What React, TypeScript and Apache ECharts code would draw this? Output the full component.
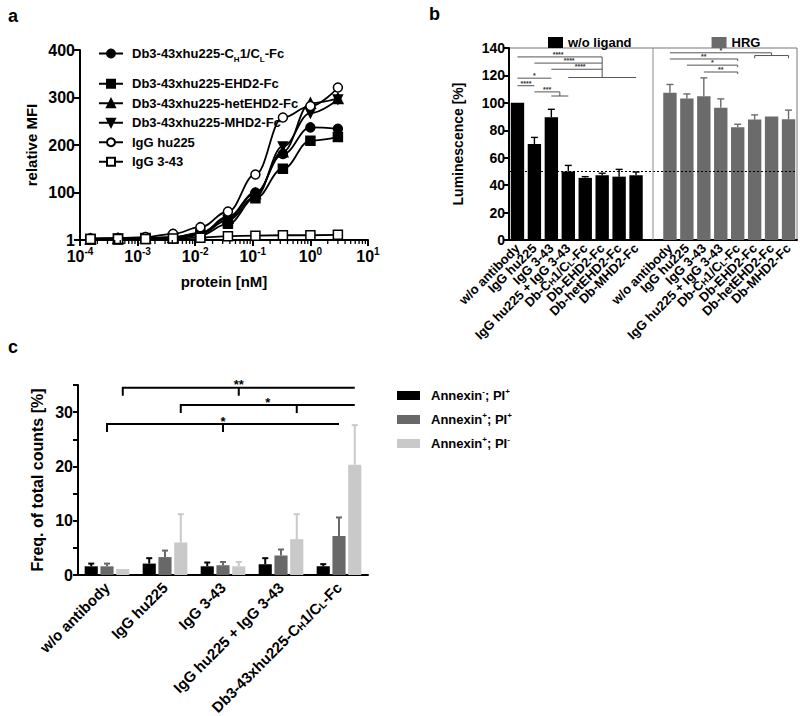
import React, { useEffect, useRef } from 'react';
import * as echarts from 'echarts';

const FONT = "'Liberation Sans', Arial, Helvetica, sans-serif";

// ---------- Panel a: binding curves ----------
const concentrations = [0.000152, 0.000457, 0.00137, 0.00412, 0.0123, 0.037, 0.111, 0.333, 1, 3];
const mfiCH1CL = [3, 4, 4, 6, 14, 49, 100, 181, 237, 234];
const mfiEHD2 = [1, 1, 2, 3, 10, 34, 88, 150, 209, 217];
const mfiHetEHD2 = [2, 3, 4, 6, 15, 46, 98, 186, 288, 298];
const mfiMHD2 = [2, 3, 4, 5, 13, 42, 91, 197, 267, 296];
const mfiIgGhu225 = [3, 4, 6, 13, 27, 60, 138, 258, 282, 321];
const mfiIgG343 = [2, 2, 2, 3, 5, 8, 9, 10, 10, 11];
const aNames = [
  'Db3-43xhu225-CH1/CL-Fc',
  'Db3-43xhu225-EHD2-Fc',
  'Db3-43xhu225-hetEHD2-Fc',
  'Db3-43xhu225-MHD2-Fc',
  'IgG hu225',
  'IgG 3-43',
];
// log-axis minor ticks: multipliers within each decade
const minorDecades = [0.0001, 0.001, 0.01, 0.1, 1];
const minorMultipliers = [2, 3, 4, 5, 6, 7, 8, 9];

// ---------- Panel b: luminescence ----------
const bCategories = [
  'w/o antibody',
  'IgG hu225',
  'IgG 3-43',
  'IgG hu225 + IgG 3-43',
  'Db-CH1/CL-Fc',
  'Db-EHD2-Fc',
  'Db-hetEHD2-Fc',
  'Db-MHD2-Fc',
];
const bNoLigand = [100, 70, 89.5, 50, 45.3, 47.2, 46.2, 47.2];
const bNoLigandSD = [0, 4.8, 5.8, 4.4, 0.9, 1.5, 5.3, 2.4];
const bHRG = [107.3, 103.2, 104.9, 96.4, 82.3, 87.8, 90, 88.1];
const bHRGSD = [6.1, 3.3, 13.3, 6.5, 2.1, 3.4, 0, 6.6];
const bThreshold = 50;
// significance brackets: points in [category index, value]; lx = label position (category index)
const bBrackets = [
  { pts: [[0, 133.5], [5, 133.5]], label: '****', lx: 2.4 },
  { pts: [[1, 129], [5, 129]], label: '****', lx: 3.05 },
  { pts: [[2, 124.5], [5, 124.5]], label: '****', lx: 3.7 },
  { pts: [[5, 133.5], [5, 118.5]], label: '' },
  { pts: [[3, 118.5], [7, 118.5]], label: '' },
  { pts: [[0, 118], [2, 118]], label: '*' },
  { pts: [[0, 112.5], [1, 112.5]], label: '****' },
  { pts: [[1, 108], [2.5, 108], [2.5, 105]], label: '***' },
  { pts: [[2, 105], [3, 105]], label: '' },
  { pts: [[9, 136.5], [15, 136.5], [15, 134.5]], label: '*' },
  { pts: [[14, 132.5], [14, 134.5], [16, 134.5], [16, 132.5]], label: '' },
  { pts: [[9, 132], [13, 132], [13, 130.5]], label: '**' },
  { pts: [[10, 127.5], [13, 127.5], [13, 126]], label: '*' },
  { pts: [[11, 122.5], [13, 122.5], [13, 121]], label: '**' },
  { pts: [[8, 0], [8, 140]], label: '', sep: true },
];

// ---------- Panel c: apoptosis ----------
const cCategories = [
  'w/o antibody',
  'IgG hu225',
  'IgG 3-43',
  'IgG hu225 + IgG 3-43',
  'Db3-43xhu225-CH1/CL-Fc',
];
const cNames = ['Annexin-; PI+', 'Annexin+; PI+', 'Annexin+; PI-'];
const cNegPos = [1.6, 2.1, 1.6, 2.0, 1.6];
const cNegPosSD = [0.5, 1.0, 0.7, 1.1, 0.4];
const cPosPos = [1.6, 3.3, 1.8, 3.6, 7.2];
const cPosPosSD = [0.5, 1.2, 0.6, 1.1, 3.4];
const cPosNeg = [1.1, 6.0, 1.6, 6.6, 20.3];
const cPosNegSD = [0, 5.2, 0.8, 4.6, 7.3];
// brackets: [group, bar slot] endpoints, value level
const cBrackets = [
  { from: [0, 2], to: [4, 2], tick: [2, 2], y: 34.5, label: '**' },
  { from: [1, 2], to: [4, 2], tick: [3, 2], y: 31.3, label: '*' },
  { from: [0, 1], to: [4, 1], tick: [2, 1], y: 27.8, label: '*' },
];

const C_BLACK = '#000000';
const C_GRAY_B = '#6b6b6b';
const C_DGRAY = '#686868';
const C_LGRAY = '#c9c9c9';
const cColors = [C_BLACK, C_DGRAY, C_LGRAY];

const bold = (size: number) => ({ fontFamily: FONT, fontWeight: 'bold' as const, fontSize: size, color: '#000' });

const subRich = (size: number, subSize: number) => ({
  t: { ...bold(size), lineHeight: size + 7 },
  s: { ...bold(subSize), lineHeight: subSize, verticalAlign: 'bottom' as const },
});
const supRich = (size: number, supSize: number) => ({
  t: { ...bold(size), lineHeight: size + 4 },
  u: { ...bold(supSize), lineHeight: supSize, verticalAlign: 'top' as const },
});

const chLabel = (prefix: string) => `{t|${prefix}C}{s|H}{t|1/C}{s|L}{t|-Fc}`;

const annexinLabel = (name: string) => {
  const m = name.match(/^Annexin(.); PI(.)$/);
  if (!m) return name;
  return `{t|Annexin}{u|${m[1]}}{t|; PI}{u|${m[2]}}`;
};

const CAT_GAP_C = 0.23;
const BAR_GAP_C = 0.2;

export default function App() {
  const ref = useRef<HTMLDivElement>(null);

  useEffect(() => {
    if (!ref.current) return;
    document.body.style.margin = '0';
    const chart = echarts.init(ref.current, undefined, { renderer: 'svg' });

    const aSymbols: any[] = [
      { symbol: 'circle', fill: '#000' },
      { symbol: 'rect', fill: '#000' },
      { symbol: 'triangle', fill: '#000' },
      { symbol: 'path://M0,0 L10,0 L5,9 Z', fill: '#000' },
      { symbol: 'circle', fill: '#fff' },
      { symbol: 'rect', fill: '#fff' },
    ];
    const aData = [mfiCH1CL, mfiEHD2, mfiHetEHD2, mfiMHD2, mfiIgGhu225, mfiIgG343];

    const aSeries = aNames.map((name, i) => ({
      name,
      type: 'line',
      xAxisIndex: 0,
      yAxisIndex: 0,
      data: concentrations.map((c, j) => [c, aData[i][j]]),
      smooth: i === 5 ? false : 0.4,
      smoothMonotone: 'x',
      symbol: aSymbols[i].symbol,
      symbolSize: i === 2 ? 10 : 9,
      lineStyle: { color: '#000', width: 1.8 },
      itemStyle: { color: aSymbols[i].fill, borderColor: '#000', borderWidth: 1.5 },
      z: i === 4 || i === 5 ? 4 : 3,
    }));

    const minorTicks: number[][] = [];
    minorDecades.forEach((d) => minorMultipliers.forEach((m) => minorTicks.push([d * m, 0])));

    // panel b data
    const nB = bCategories.length * 2 + 1;
    const bAxisData = [...bCategories, ' ', ...bCategories];
    const bNoLigandData = Array.from({ length: nB }, (_, i) => (i < bCategories.length ? bNoLigand[i] : '-'));
    const bHRGData = Array.from({ length: nB }, (_, i) =>
      i > bCategories.length ? bHRG[i - bCategories.length - 1] : '-'
    );
    const bErrData: number[][] = [];
    bNoLigand.forEach((v, i) => bErrData.push([i, v, bNoLigandSD[i], 0]));
    bHRG.forEach((v, i) => bErrData.push([i + bCategories.length + 1, v, bHRGSD[i], 1]));

    const cErrData: number[][] = [];
    [
      [cNegPos, cNegPosSD],
      [cPosPos, cPosPosSD],
      [cPosNeg, cPosNegSD],
    ].forEach(([vals, sds], s) => vals.forEach((v, g) => cErrData.push([g, v, sds[g], s])));

    const slotOffset = (bw: number, slot: number) => {
      const barW = (bw * (1 - CAT_GAP_C)) / (3 + 2 * BAR_GAP_C);
      return (slot - 1) * barW * (1 + BAR_GAP_C);
    };

    const option: any = {
      animation: false,
      backgroundColor: '#fff',
      textStyle: { fontFamily: FONT },
      title: [
        { text: 'a', left: 3, top: 2, textStyle: bold(18) },
        { text: 'b', left: 424, top: 0, textStyle: bold(18) },
        { text: 'c', left: 3, top: 333, textStyle: bold(18) },
      ],
      grid: [
        { left: 80, top: 50, width: 288, height: 190, outerBoundsMode: 'none' },
        {
          left: 509,
          top: 48,
          width: 288,
          height: 192,
          show: true,
          borderColor: '#777',
          borderWidth: 1,
          backgroundColor: 'transparent',
          outerBoundsMode: 'none',
        },
        { left: 78, top: 385, width: 290, height: 190, outerBoundsMode: 'none' },
      ],
      legend: [
        {
          data: [aNames[0]],
          left: 93,
          top: 42,
          orient: 'vertical',
          itemWidth: 24,
          itemHeight: 10,
          selectedMode: false,
          formatter: () => chLabel('Db3-43xhu225-'),
          textStyle: { ...bold(13), rich: subRich(13, 8), padding: [0, 0, 0, 4] },
        },
        {
          data: aNames.slice(1),
          left: 93,
          top: 71,
          orient: 'vertical',
          itemWidth: 24,
          itemHeight: 10,
          itemGap: 4,
          selectedMode: false,
          textStyle: { ...bold(13), lineHeight: 15.5, padding: [0, 0, 0, 4] },
        },
        {
          data: ['w/o ligand', 'HRG'],
          left: 543,
          top: 31,
          itemWidth: 15,
          itemHeight: 11,
          itemGap: 80,
          icon: 'rect',
          selectedMode: false,
          textStyle: bold(13),
        },
        {
          data: cNames,
          left: 392,
          top: 382,
          orient: 'vertical',
          itemWidth: 23,
          itemHeight: 9,
          itemGap: 9,
          icon: 'rect',
          selectedMode: false,
          formatter: (n: string) => annexinLabel(n),
          textStyle: { ...bold(13), rich: supRich(13, 8), padding: [0, 0, 0, 6] },
        },
      ],
      xAxis: [
        {
          gridIndex: 0,
          type: 'log',
          logBase: 10,
          min: 0.0001,
          max: 10,
          name: 'protein [nM]',
          nameLocation: 'middle',
          nameGap: 34,
          nameTextStyle: bold(15),
          axisLine: { lineStyle: { color: '#000', width: 2 } },
          axisTick: { lineStyle: { color: '#000', width: 2 }, length: 6 },
          splitLine: { show: false },
          axisLabel: {
            margin: 6,
            formatter: (v: number) => {
              const e = Math.round(Math.log10(v));
              return `{t|10}{u|${e}}`;
            },
            rich: supRich(16, 10),
          },
        },
        {
          gridIndex: 1,
          type: 'category',
          data: bAxisData,
          axisLine: { lineStyle: { color: '#000', width: 2 } },
          axisTick: { show: false },
          axisLabel: {
            interval: 0,
            rotate: 45,
            margin: 6,
            ...bold(13),
            formatter: (v: string) => (v.indexOf('CH1/CL') >= 0 ? chLabel('Db-') : v),
            rich: {
              t: { ...bold(13) },
              s: { ...bold(9), verticalAlign: 'bottom' },
            },
          },
        },
        {
          gridIndex: 2,
          type: 'category',
          data: cCategories,
          axisLine: { lineStyle: { color: '#000', width: 2 } },
          axisTick: { alignWithLabel: true, length: 5, lineStyle: { color: '#000', width: 2 } },
          axisLabel: {
            interval: 0,
            rotate: 45,
            margin: 10,
            ...bold(15),
            formatter: (v: string) => (v.indexOf('CH1/CL') >= 0 ? chLabel('Db3-43xhu225-') : v),
            rich: {
              t: { ...bold(15) },
              s: { ...bold(10), verticalAlign: 'bottom' },
            },
          },
        },
      ],
      yAxis: [
        {
          gridIndex: 0,
          type: 'value',
          min: 0,
          max: 400,
          interval: 100,
          name: 'relative MFI',
          nameLocation: 'middle',
          nameGap: 41,
          nameTextStyle: bold(15),
          axisLine: { show: true, lineStyle: { color: '#000', width: 2 } },
          axisTick: { show: true, length: 6, lineStyle: { color: '#000', width: 2 } },
          splitLine: { show: false },
          axisLabel: { ...bold(16), margin: 5, formatter: (v: number) => (v === 0 ? '1' : String(v)) },
        },
        {
          gridIndex: 1,
          type: 'value',
          min: 0,
          max: 140,
          interval: 20,
          name: 'Luminescence [%]',
          nameLocation: 'middle',
          nameGap: 44,
          nameTextStyle: bold(14),
          axisLine: { show: true, lineStyle: { color: '#000', width: 2 } },
          axisTick: { show: true, length: 5, lineStyle: { color: '#000', width: 2 } },
          splitLine: { show: false },
          axisLabel: { ...bold(14), margin: 4 },
        },
        {
          gridIndex: 2,
          type: 'value',
          min: 0,
          max: 35,
          interval: 5,
          name: 'Freq. of total counts [%]',
          nameLocation: 'middle',
          nameGap: 33,
          nameTextStyle: bold(16),
          axisLine: { show: true, lineStyle: { color: '#000', width: 2 } },
          axisTick: { show: true, length: 5, lineStyle: { color: '#000', width: 2 } },
          splitLine: { show: false },
          axisLabel: {
            ...bold(16),
            margin: 5,
            formatter: (v: number) => (v % 10 === 0 ? String(v) : ''),
          },
        },
      ],
      series: [
        ...aSeries,
        {
          type: 'custom',
          name: 'a-minor-ticks',
          xAxisIndex: 0,
          yAxisIndex: 0,
          data: minorTicks,
          encode: { x: 0, y: 1 },
          silent: true,
          z: 6,
          clip: false,
          renderItem: (params: any, api: any) => {
            const p = api.coord([api.value(0), 0]);
            return {
              type: 'line',
              shape: { x1: p[0], y1: p[1], x2: p[0], y2: p[1] + 4 },
              style: { stroke: '#000', lineWidth: 1.3 },
            };
          },
        },
        {
          name: 'w/o ligand',
          type: 'bar',
          xAxisIndex: 1,
          yAxisIndex: 1,
          stack: 'lum',
          data: bNoLigandData,
          barCategoryGap: '21%',
          itemStyle: { color: C_BLACK },
          markLine: {
            silent: true,
            symbol: 'none',
            label: { show: false },
            lineStyle: { color: '#000', type: [2, 2], width: 1 },
            data: [{ yAxis: bThreshold }],
          },
        },
        {
          name: 'HRG',
          type: 'bar',
          xAxisIndex: 1,
          yAxisIndex: 1,
          stack: 'lum',
          data: bHRGData,
          barCategoryGap: '21%',
          itemStyle: { color: C_GRAY_B },
        },
        {
          type: 'custom',
          name: 'b-err',
          xAxisIndex: 1,
          yAxisIndex: 1,
          data: bErrData,
          encode: { x: 0, y: 1 },
          z: 5,
          renderItem: (params: any, api: any) => {
            const x = api.value(0);
            const m = api.value(1);
            const sd = api.value(2);
            const color = api.value(3) === 0 ? C_BLACK : C_GRAY_B;
            if (!sd) return { type: 'group', children: [] };
            const p0 = api.coord([x, m]);
            const p1 = api.coord([x, m + sd]);
            const st = { stroke: color, lineWidth: 1.4 };
            return {
              type: 'group',
              children: [
                { type: 'line', shape: { x1: p0[0], y1: p0[1], x2: p1[0], y2: p1[1] }, style: st },
                { type: 'line', shape: { x1: p1[0] - 3.5, y1: p1[1], x2: p1[0] + 3.5, y2: p1[1] }, style: st },
              ],
            };
          },
        },
        {
          type: 'custom',
          name: 'b-sig',
          xAxisIndex: 1,
          yAxisIndex: 1,
          data: bBrackets.map(() => [0, 0]),
          encode: { x: 0, y: 1 },
          z: 6,
          silent: true,
          renderItem: (params: any, api: any) => {
            const br: any = bBrackets[params.dataIndex];
            const bw = api.size([1, 0])[0];
            const x0 = api.coord([0, 0])[0];
            const pts = br.pts.map((p: number[]) => [x0 + p[0] * bw, api.coord([0, p[1]])[1]]);
            const color = br.sep ? '#8a8a8a' : '#555';
            const children: any[] = [
              {
                type: 'polyline',
                shape: { points: pts },
                style: { stroke: color, lineWidth: 1, fill: null },
              },
            ];
            if (br.label) {
              const lx = br.lx !== undefined ? x0 + br.lx * bw : (pts[0][0] + pts[1][0]) / 2;
              children.push({
                type: 'text',
                style: {
                  text: br.label,
                  x: lx,
                  y: pts[0][1] - 2.5,
                  align: 'center',
                  verticalAlign: 'middle',
                  lineHeight: 4,
                  fill: '#333',
                  fontFamily: FONT,
                  fontWeight: 'bold',
                  fontSize: 7,
                },
              });
            }
            return { type: 'group', children };
          },
        },
        ...[cNegPos, cPosPos, cPosNeg].map((vals, s) => ({
          name: cNames[s],
          type: 'bar',
          xAxisIndex: 2,
          yAxisIndex: 2,
          data: vals,
          barCategoryGap: `${CAT_GAP_C * 100}%`,
          barGap: `${BAR_GAP_C * 100}%`,
          itemStyle: { color: cColors[s] },
        })),
        {
          type: 'custom',
          name: 'c-err',
          xAxisIndex: 2,
          yAxisIndex: 2,
          data: cErrData,
          encode: { x: 0, y: 1 },
          z: 5,
          renderItem: (params: any, api: any) => {
            const g = api.value(0);
            const m = api.value(1);
            const sd = api.value(2);
            const s = api.value(3);
            if (!sd) return { type: 'group', children: [] };
            const bw = api.size([1, 0])[0];
            const off = slotOffset(bw, s);
            const p0 = api.coord([g, m]);
            const p1 = api.coord([g, m + sd]);
            const x = p0[0] + off;
            const st = { stroke: cColors[s], lineWidth: 2 };
            return {
              type: 'group',
              children: [
                { type: 'line', shape: { x1: x, y1: p0[1], x2: x, y2: p1[1] }, style: st },
                { type: 'line', shape: { x1: x - 3, y1: p1[1], x2: x + 3, y2: p1[1] }, style: st },
              ],
            };
          },
        },
        {
          type: 'custom',
          name: 'c-sig',
          xAxisIndex: 2,
          yAxisIndex: 2,
          data: cBrackets.map(() => [0, 0]),
          encode: { x: 0, y: 1 },
          z: 6,
          silent: true,
          renderItem: (params: any, api: any) => {
            const br = cBrackets[params.dataIndex];
            const bw = api.size([1, 0])[0];
            const px = (gs: number[]) => api.coord([gs[0], 0])[0] + slotOffset(bw, gs[1]);
            const y = api.coord([0, br.y])[1];
            const xa = px(br.from);
            const xb = px(br.to);
            const xt = px(br.tick);
            const st = { stroke: '#000', lineWidth: 2, fill: null };
            return {
              type: 'group',
              children: [
                { type: 'polyline', shape: { points: [[xa, y + 8], [xa, y], [xb, y]] }, style: st },
                { type: 'line', shape: { x1: xt, y1: y, x2: xt, y2: y + 8 }, style: st },
                {
                  type: 'text',
                  style: {
                    text: br.label,
                    x: (xa + xb) / 2,
                    y: y - 3,
                    align: 'center',
                    verticalAlign: 'middle',
                    lineHeight: 6,
                    fill: '#000',
                    fontFamily: FONT,
                    fontWeight: 'bold',
                    fontSize: 13,
                  },
                },
              ],
            };
          },
        },
      ],
    };

    chart.setOption(option);
    return () => chart.dispose();
  }, []);

  return (
    <div
      ref={ref}
      style={{ position: 'absolute', left: 0, top: 0, width: 800, height: 716, background: '#fff' }}
    />
  );
}
